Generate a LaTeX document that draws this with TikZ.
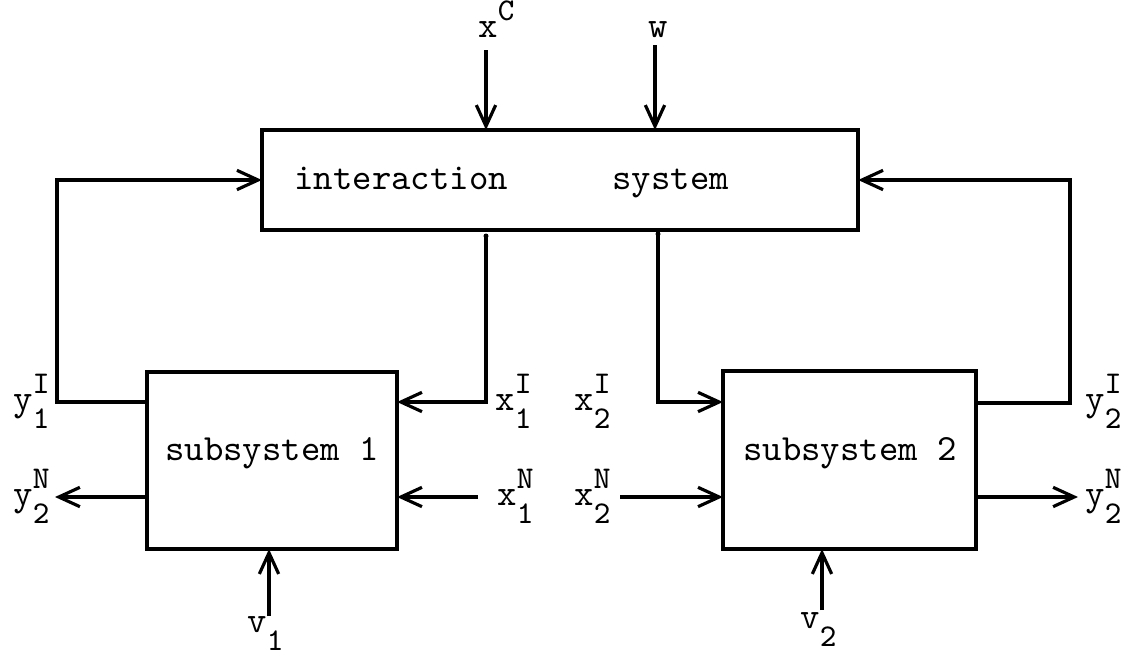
\documentclass[tikz,border=0pt]{standalone}
\usetikzlibrary{arrows.meta}
% base letter with a superscript (#2) and a subscript (#3)
\newcommand\supsub[3]{#1\rlap{\raisebox{4.6pt}{\fontsize{9}{10}\selectfont#2}}\raisebox{-5.4pt}{\fontsize{9}{10}\selectfont#3}}
\newcommand\supr[1]{\raisebox{4.6pt}{\fontsize{9}{10}\selectfont#1}}
\newcommand\subr[1]{\raisebox{-5.4pt}{\fontsize{9}{10}\selectfont#1}}
\begin{document}
\begin{tikzpicture}[x=0.01cm,y=-0.01cm,
  line width=0.9pt,
  blk/.style={draw, line width=1pt, inner sep=0pt, outer sep=0pt},
  arr/.style={-{Straight Barb[length=6pt,width=5.5pt]}},
  lbl/.style={inner sep=0pt, anchor=base west, font=\fontsize{10.5}{12}\ttfamily},
  txt/.style={inner sep=0pt, anchor=base, font=\fontsize{10.5}{12}\ttfamily}]
\useasboundingbox (0,0) rectangle (1132,657);

% blocks
\node[blk, minimum width=5.96cm, minimum height=1.0cm] (inter) at (560,180) {};
\node[blk, minimum width=2.50cm, minimum height=1.77cm] (sub1) at (272,460.5) {};
\node[blk, minimum width=2.53cm, minimum height=1.78cm] (sub2) at (849.5,460) {};

% block captions
\node[txt, anchor=base west] (t1) at (293,189) {interaction};
\node[txt, anchor=base west] (t2) at (611,189) {system};
\node[txt] (s1t) at (272,460) {subsystem 1};
\node[txt] (s2t) at (850,460) {subsystem 2};

% signal labels
\node[lbl] (y1i) at (12,410) {\supsub{y}{I}{1}};
\node[lbl] (x1i) at (494,410) {\supsub{x}{I}{1}};
\node[lbl] (x2i) at (573,410) {\supsub{x}{I}{2}};
\node[lbl] (y2i) at (1084,410) {\supsub{y}{I}{2}};
\node[lbl] (y2nl) at (12,505) {\supsub{y}{N}{2}};
\node[lbl] (x1n) at (496,505) {\supsub{x}{N}{1}};
\node[lbl] (x2n) at (573,505) {\supsub{x}{N}{2}};
\node[lbl] (y2nr) at (1084,505) {\supsub{y}{N}{2}};
\node[lbl] (xc) at (477,37) {x\supr{C}};
\node[lbl] (w) at (647,37) {w};
\node[lbl] (v1) at (246,632) {v\subr{1}};
\node[lbl] (v2) at (799,628) {v\subr{2}};

% external inputs of the interaction system
\coordinate (xcs) at (486,50);
\coordinate (ws) at (655,45);
\draw[arr] (xcs) -- (xcs |- inter.north);
\draw[arr] (ws) -- (ws |- inter.north);

% interaction outputs y^I fed back
\coordinate (lb) at (57,402);
\coordinate (lt) at (57,180);
\draw[arr] (sub1.west |- lb) -- (lb) -- (lt) -- (inter.west);
\coordinate (rb) at (1070,403);
\coordinate (rt) at (1070,180);
\draw[arr] (sub2.east |- rb) -- (rb) -- (rt) -- (inter.east);

% interaction inputs x^I to the subsystems
\coordinate (a1) at (486,236);
\coordinate (a1b) at (486,402);
\draw[arr] (a1) -- (a1b) -- (sub1.east |- a1b);
\fill (a1) circle (2.5);
\coordinate (a2) at (658,234);
\coordinate (a2b) at (658,402);
\draw[arr] (a2) -- (a2b) -- (sub2.west |- a2b);
\fill (a2) circle (2.5);

% non-interaction signals
\coordinate (nl) at (55,497);
\draw[arr] (sub1.west |- nl) -- (nl);
\coordinate (n1) at (478,497);
\draw[arr] (n1) -- (sub1.east |- n1);
\coordinate (n2) at (620,497);
\draw[arr] (n2) -- (sub2.west |- n2);
\coordinate (nr) at (1078,497);
\draw[arr] (sub2.east |- nr) -- (nr);

% disturbances v
\coordinate (v1s) at (269,616);
\draw[arr] (v1s) -- (v1s |- sub1.south);
\coordinate (v2s) at (822,610);
\draw[arr] (v2s) -- (v2s |- sub2.south);
\end{tikzpicture}
\end{document}
